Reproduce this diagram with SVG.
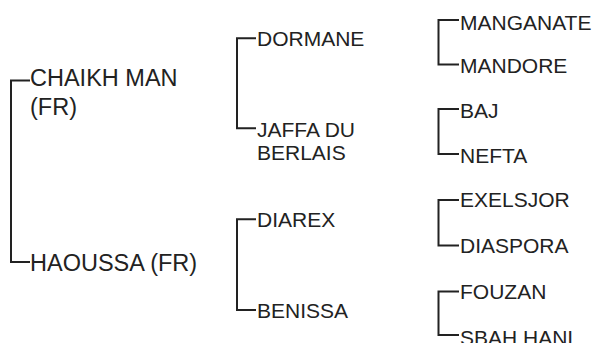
<svg xmlns="http://www.w3.org/2000/svg" width="595" height="343" viewBox="0 0 595 343">
<style>
  .lbl { font-family: "Liberation Sans", Arial, sans-serif; fill: #222; }
  .root { font-size: 23.5px; }
  .mid { font-size: 21px; }
  .leaf { font-size: 21px; }
  .conn { fill: none; stroke: #222; stroke-width: 2; }
</style>
<rect width="595" height="343" fill="#fff"/>
<g id="connectors">
  <path class="conn" d="M30,80.5 H11 V262 H30"/>
  <path class="conn" d="M256,38.3 H237 V128.3 H256"/>
  <path class="conn" d="M256,219.3 H237 V310 H256"/>
  <path class="conn" d="M459,20 H438.5 V64.5 H459"/>
  <path class="conn" d="M459,109 H438.5 V154 H459"/>
  <path class="conn" d="M459,200 H438.5 V245.5 H459"/>
  <path class="conn" d="M459,291.5 H438.5 V335 H459"/>
</g>
<g id="chaikh-man"><text class="lbl root" x="30" y="86">CHAIKH MAN</text><text class="lbl root" x="30" y="114.5">(FR)</text></g>
<g id="haoussa"><text class="lbl root" x="30" y="271">HAOUSSA (FR)</text></g>
<g id="dormane"><text class="lbl mid" x="257" y="46">DORMANE</text></g>
<g id="jaffa-du-berlais"><text class="lbl mid" x="257" y="137">JAFFA DU</text><text class="lbl mid" x="257" y="160">BERLAIS</text></g>
<g id="diarex"><text class="lbl mid" x="257" y="226.7">DIAREX</text></g>
<g id="benissa"><text class="lbl mid" x="257" y="317.7">BENISSA</text></g>
<g id="manganate"><text class="lbl leaf" x="460" y="29.5">MANGANATE</text></g>
<g id="mandore"><text class="lbl leaf" x="460" y="73">MANDORE</text></g>
<g id="baj"><text class="lbl leaf" x="460" y="117.5">BAJ</text></g>
<g id="nefta"><text class="lbl leaf" x="460" y="162.5">NEFTA</text></g>
<g id="exelsjor"><text class="lbl leaf" x="460" y="207">EXELSJOR</text></g>
<g id="diaspora"><text class="lbl leaf" x="460" y="253">DIASPORA</text></g>
<g id="fouzan"><text class="lbl leaf" x="460" y="299">FOUZAN</text></g>
<g id="sbah-hani"><text class="lbl leaf" x="460" y="345">SBAH HANI</text></g>
</svg>
